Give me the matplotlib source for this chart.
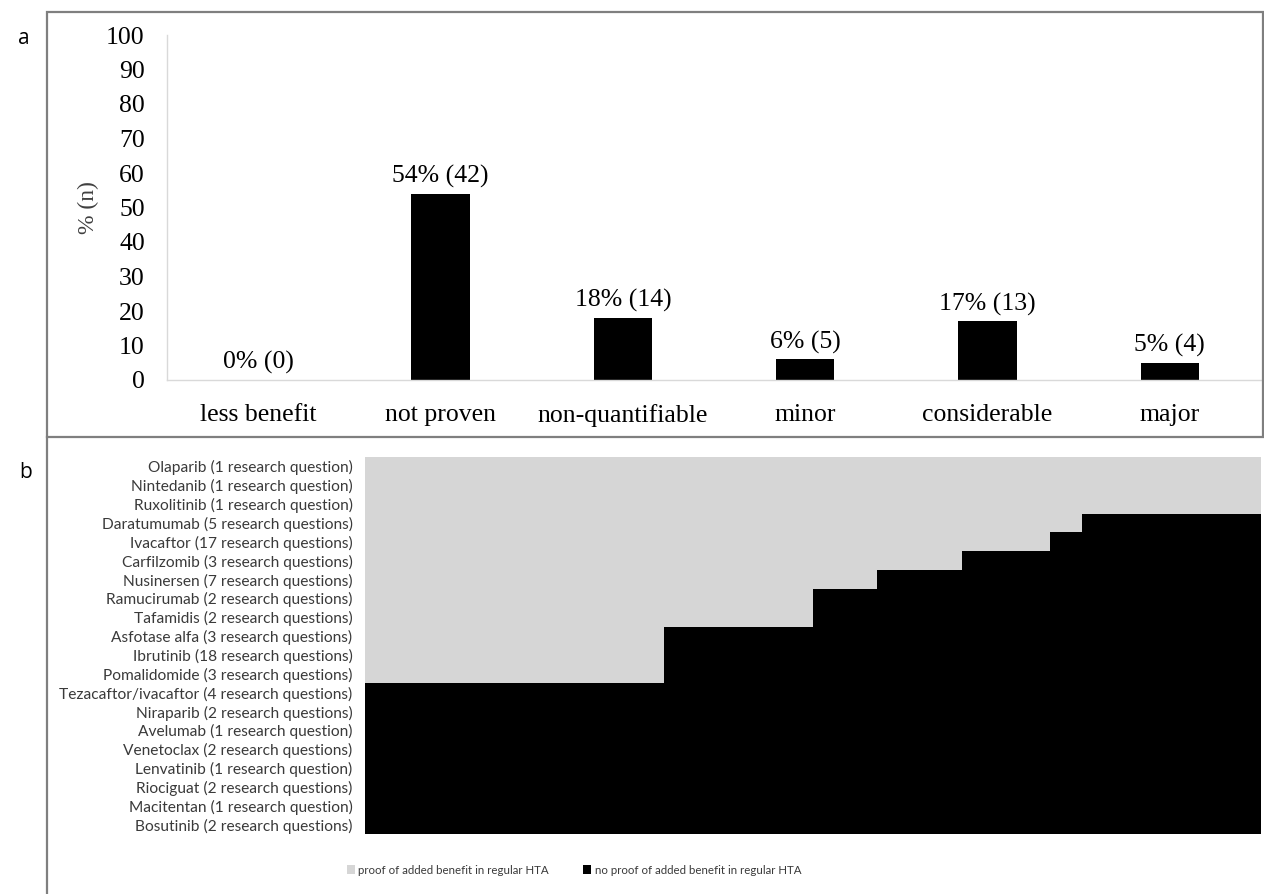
import numpy as np
import matplotlib
matplotlib.use("Agg")
import matplotlib.pyplot as plt
from matplotlib.patches import Rectangle
from matplotlib.lines import Line2D

# panel a: extent of added benefit
categories = ["less benefit", "not proven", "non-quantifiable", "minor", "considerable", "major"]
percent = [0, 54, 18, 6, 17, 5]
counts = [0, 42, 14, 5, 13, 4]

# panel b: research questions per drug and how many had proof of added benefit
drugs = ["Olaparib", "Nintedanib", "Ruxolitinib", "Daratumumab", "Ivacaftor",
         "Carfilzomib", "Nusinersen", "Ramucirumab", "Tafamidis", "Asfotase alfa",
         "Ibrutinib", "Pomalidomide", "Tezacaftor/ivacaftor", "Niraparib", "Avelumab",
         "Venetoclax", "Lenvatinib", "Riociguat", "Macitentan", "Bosutinib"]
n_questions = [1, 1, 1, 5, 17, 3, 7, 2, 2, 3, 18, 3, 4, 2, 1, 2, 1, 2, 1, 2]
n_proof = [1, 1, 1, 4, 13, 2, 4, 1, 1, 1, 6, 1, 0, 0, 0, 0, 0, 0, 0, 0]

W, H = 1264, 894
fig = plt.figure(figsize=(W / 100, H / 100), dpi=100)

def fx(px):
    return px / W

def fy(py):
    return 1 - py / H

# frame around panel a and the rule down the left of panel b
fig.patches.append(Rectangle((fx(47), fy(437)), fx(1263) - fx(47), fy(12) - fy(437),
                             transform=fig.transFigure, fill=False,
                             edgecolor="#7f7f7f", linewidth=1.6))
fig.lines.append(Line2D([fx(47), fx(47)], [fy(437), 0], transform=fig.transFigure,
                        color="#7f7f7f", linewidth=1.6))

fig.text(fx(24), fy(38), "a", fontsize=15, family="Open Sans", va="center", ha="center")
fig.text(fx(26), fy(472), "b", fontsize=15, family="Open Sans", va="center", ha="center")

# ---- panel a ----
serif = "Liberation Serif"
axa = fig.add_axes([fx(167), fy(380), fx(1261) - fx(167), fy(35) - fy(380)])
x = np.arange(len(categories))
axa.bar(x, percent, width=0.32, color="black")
for xi, p, n in zip(x, percent, counts):
    axa.annotate(f"{p}% ({n})", (xi, p), xytext=(0, 4), textcoords="offset points",
                 ha="center", va="bottom", fontsize=18.5, family=serif)
axa.set_xlim(-0.5, len(categories) - 0.5)
axa.set_ylim(0, 100)
axa.set_yticks(np.arange(0, 101, 10))
axa.set_xticks(x)
axa.set_xticklabels(categories)
axa.tick_params(length=0, labelsize=18.5, pad=16)
axa.tick_params(axis="x", pad=17)
for lab in axa.get_xticklabels() + axa.get_yticklabels():
    lab.set_family(serif)
axa.set_ylabel("% (n)", fontsize=17, family=serif, color="#404040")
axa.yaxis.set_label_coords(-0.062, 0.5)
for s in ["top", "right"]:
    axa.spines[s].set_visible(False)
for s in ["left", "bottom"]:
    axa.spines[s].set_color("#d9d9d9")
    axa.spines[s].set_linewidth(1.0)

# ---- panel b ----
axb = fig.add_axes([fx(365), fy(834), fx(1261) - fx(365), fy(457) - fy(834)])
proof = np.array(n_proof) / np.array(n_questions)
no_proof = 1 - proof
y = np.arange(len(drugs))
axb.barh(y, proof, height=1.0, color="#d6d6d6", linewidth=0,
         label="proof of added benefit in regular HTA")
axb.barh(y, no_proof, left=proof, height=1.0, color="black", linewidth=0,
         label="no proof of added benefit in regular HTA")
labels = [f"{d} ({n} research question{'s' if n > 1 else ''})"
          for d, n in zip(drugs, n_questions)]
axb.set_yticks(y)
axb.set_yticklabels(labels, fontsize=11.2, family="Lato", color="#3a3a3a")
axb.set_ylim(len(drugs) - 0.5, -0.5)
axb.set_xlim(0, 1)
axb.set_xticks([])
axb.tick_params(axis="y", length=0, pad=9)
for s in axb.spines.values():
    s.set_visible(False)

fig.legend(loc="center", bbox_to_anchor=(fx(574), fy(870)), ncol=2, frameon=False,
           prop={"family": "Lato", "size": 8.3}, handlelength=0.7, handleheight=0.7,
           handletextpad=0.3, columnspacing=3.0, labelcolor="#3a3a3a")

fig.savefig("out.png", dpi=100)
